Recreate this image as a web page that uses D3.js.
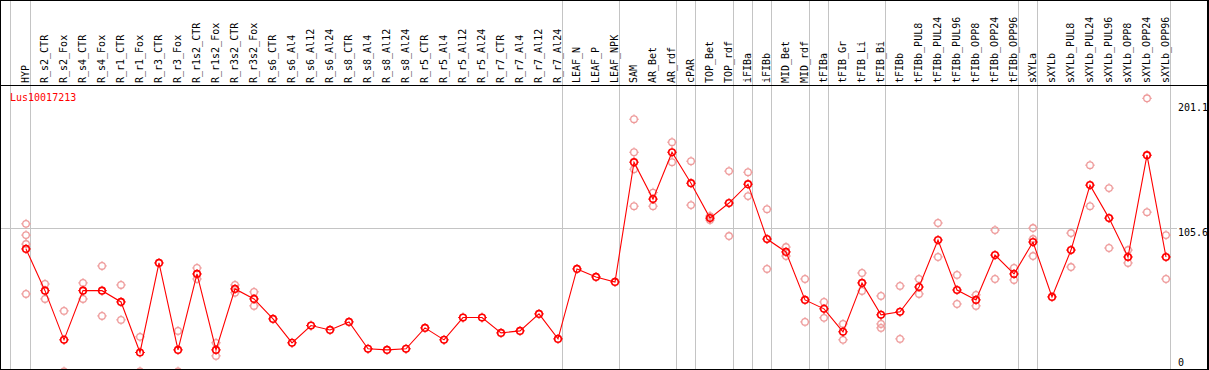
<!DOCTYPE html>
<html>
<head>
<meta charset="utf-8">
<script src="https://cdn.jsdelivr.net/npm/d3@7"></script>
<style>
  html, body { margin: 0; padding: 0; background: #fff; }
  svg { display: block; }
  text { font-family: "DejaVu Sans Mono", "Liberation Mono", monospace; font-size: 10px; }
</style>
</head>
<body>
<script>
const title = "Lus10017213";

const categories = [
  "HYP",
  "R_s2_CTR","R_s2_Fox","R_s4_CTR","R_s4_Fox","R_r1_CTR","R_r1_Fox","R_r3_CTR","R_r3_Fox",
  "R_r1s2_CTR","R_r1s2_Fox","R_r3s2_CTR","R_r3s2_Fox",
  "R_s6_CTR","R_s6_Al4","R_s6_Al12","R_s6_Al24","R_s8_CTR","R_s8_Al4","R_s8_Al12","R_s8_Al24",
  "R_r5_CTR","R_r5_Al4","R_r5_Al12","R_r5_Al24","R_r7_CTR","R_r7_Al4","R_r7_Al12","R_r7_Al24",
  "LEAF_N","LEAF_P","LEAF_NPK",
  "SAM","AR_Bet","AR_rdf",
  "cPAR",
  "TOP_Bet","TOP_rdf",
  "iFIBa",
  "iFIBb",
  "MID_Bet","MID_rdf",
  "tFIBa",
  "tFIB_Gr","tFIB_Li","tFIB_Bi",
  "tFIBb","tFIBb_PUL8","tFIBb_PUL24","tFIBb_PUL96","tFIBb_OPP8","tFIBb_OPP24","tFIBb_OPP96",
  "sXYLa",
  "sXYLb","sXYLb_PUL8","sXYLb_PUL24","sXYLb_PUL96","sXYLb_OPP8","sXYLb_OPP24","sXYLb_OPP96"
];

// number of categories in each group (separators are drawn between groups)
const groupSizes = [1, 28, 3, 3, 1, 2, 1, 1, 2, 1, 3, 7, 1, 7];

// mean expression per category (the line)
const means = [
  90.2,
  59.5, 23.3, 59.5, 59.5, 51.2, 14.0, 79.9, 15.9,
  71.8, 15.9, 60.8, 53.4,
  38.7, 21.1, 33.8, 30.6, 36.5, 16.7, 15.9, 16.7,
  32.1, 23.3, 39.7, 39.7, 28.4, 29.9, 42.4, 24.0,
  75.5, 69.6, 65.9,
  154.1, 126.9, 161.4,
  138.6,
  112.9, 124.0,
  137.9,
  97.5,
  88.0, 52.7,
  46.1,
  29.2, 65.2, 41.7,
  43.9, 62.2, 96.8, 60.0, 52.7, 85.7, 71.8,
  95.3,
  54.9, 89.4, 137.2, 112.9, 84.3, 159.2, 84.3
];

// individual replicate values per category
const replicates = [
  [108.7, 100.4, 93.8, 57.1],
  [64.4, 53.4], [44.6, 0], [65.2, 53.4], [77.7, 40.9], [63.7, 38.0], [25.5, 0], [], [29.9, 0],
  [76.2, 68.1], [21.1, 11.5], [63.7, 58.0], [58.6, 48.3],
  [], [], [], [], [], [], [], [],
  [], [], [], [], [], [], [], [],
  [], [], [],
  [185.7, 161.4, 148.9, 121.7], [131.7, 121.7], [168.8, 154.1],
  [154.8, 122.5],
  [114.4, 111.5], [147.5, 99.7],
  [146.7, 129.1],
  [119.5, 75.5],
  [91.6, 85.0], [68.1, 36.5],
  [51.2, 39.5],
  [35.0, 23.3], [72.5, 59.3], [55.6, 35.0, 32.1],
  [63.0, 24.0], [68.1, 57.1], [109.3, 84.3], [71.1, 49.7], [56.4, 48.3], [104.1, 68.1], [76.2, 67.4],
  [105.6, 97.5, 85.0],
  [], [101.9, 76.9], [151.9, 121.7], [135.0, 90.9], [89.4, 79.9], [201.1, 117.3], [100.4, 68.1]
];

const yTickLabels = ["201.1", "105.6", "0"];
const yMax = 201.1;
const yGrid = [105.6];

// ---------------- drawing ----------------
const W = 1209, H = 370;
const headerBottom = 85, plotBottom = 369, rightEdge = 1207;
const red = "#ff0000", pink = "#ee9b9b", grid = "#c4c4c4";

const svg = d3.select("body").append("svg").attr("width", W).attr("height", H);

const x = d3.scalePoint().domain(categories).range([26, 1166]);
const y = d3.scaleLinear().domain([0, yMax]).range([371.5, 98.3]);

// group separators
const sepX = [x(categories[0]) - 15.5];
let acc = 0;
groupSizes.forEach(s => { acc += s; sepX.push(x(categories[acc - 1]) + 4.5); });
svg.append("g").selectAll("line").data(sepX).join("line")
  .attr("x1", d => d).attr("x2", d => d).attr("y1", 0).attr("y2", plotBottom)
  .attr("stroke", grid).attr("stroke-width", 1);

// horizontal grid
svg.append("g").selectAll("line").data(yGrid).join("line")
  .attr("x1", 0).attr("x2", 1177)
  .attr("y1", d => Math.round(y(d)) + 0.5).attr("y2", d => Math.round(y(d)) + 0.5)
  .attr("stroke", grid).attr("stroke-width", 1);

// frame
const frame = svg.append("g").attr("stroke", "#000").attr("shape-rendering", "crispEdges");
frame.append("line").attr("x1", 0).attr("x2", W).attr("y1", 0.5).attr("y2", 0.5);
frame.append("line").attr("x1", 0).attr("x2", W).attr("y1", headerBottom + 0.5).attr("y2", headerBottom + 0.5);
frame.append("line").attr("x1", 0).attr("x2", W).attr("y1", plotBottom + 0.5).attr("y2", plotBottom + 0.5);
frame.append("line").attr("x1", 0.5).attr("x2", 0.5).attr("y1", 0).attr("y2", H);
frame.append("line").attr("x1", rightEdge + 0.5).attr("x2", rightEdge + 0.5).attr("y1", 0).attr("y2", H).attr("stroke-width", 2);

// header labels
svg.append("g").selectAll("text").data(categories).join("text")
  .attr("transform", d => `translate(${x(d) - 0.5},83) rotate(-90)`)
  .attr("dy", "0.35em")
  .attr("text-anchor", "start")
  .attr("fill", "#000")
  .text(d => d);

// clip for plot
svg.append("clipPath").attr("id", "plotclip").append("rect")
  .attr("x", 1).attr("y", headerBottom + 1).attr("width", rightEdge - 1).attr("height", plotBottom - headerBottom - 1);
const plot = svg.append("g").attr("clip-path", "url(#plotclip)");

function marker(g, cx, cy, color, sw) {
  const r = 3.3;
  g.append("circle").attr("cx", cx).attr("cy", cy).attr("r", r)
    .attr("fill", "none").attr("stroke", color).attr("stroke-width", sw);
  g.append("path")
    .attr("d", `M${cx},${cy - r - 1.6}v1.6M${cx},${cy + r}v1.6M${cx - r - 1.6},${cy}h1.6M${cx + r},${cy}h1.6`)
    .attr("stroke", color).attr("stroke-width", 1).attr("fill", "none");
}

// replicates
const repG = plot.append("g");
replicates.forEach((vals, i) => {
  vals.forEach(v => marker(repG, x(categories[i]), y(v), pink, 1.3));
});

// mean line
const lineData = categories.map((c, i) => [x(c), y(means[i])]);
plot.append("path").datum(lineData)
  .attr("d", d3.line())
  .attr("fill", "none").attr("stroke", red).attr("stroke-width", 1.1);

const meanG = plot.append("g");
lineData.forEach(p => marker(meanG, p[0], p[1], red, 1.6));

// title
svg.append("text").attr("x", 10).attr("y", 101).attr("fill", red).attr("font-size", "10.5px").text(title);

// y labels on the right
const yTickVals = yTickLabels.map(Number);
svg.append("g").selectAll("text").data(yTickLabels).join("text")
  .attr("x", 1178)
  .attr("y", (d, i) => Math.max(107.3, Math.min(y(yTickVals[i]) + 4, 362.3)))
  .attr("dy", "0.35em")
  .attr("fill", "#000")
  .text(d => d);
</script>
</body>
</html>
